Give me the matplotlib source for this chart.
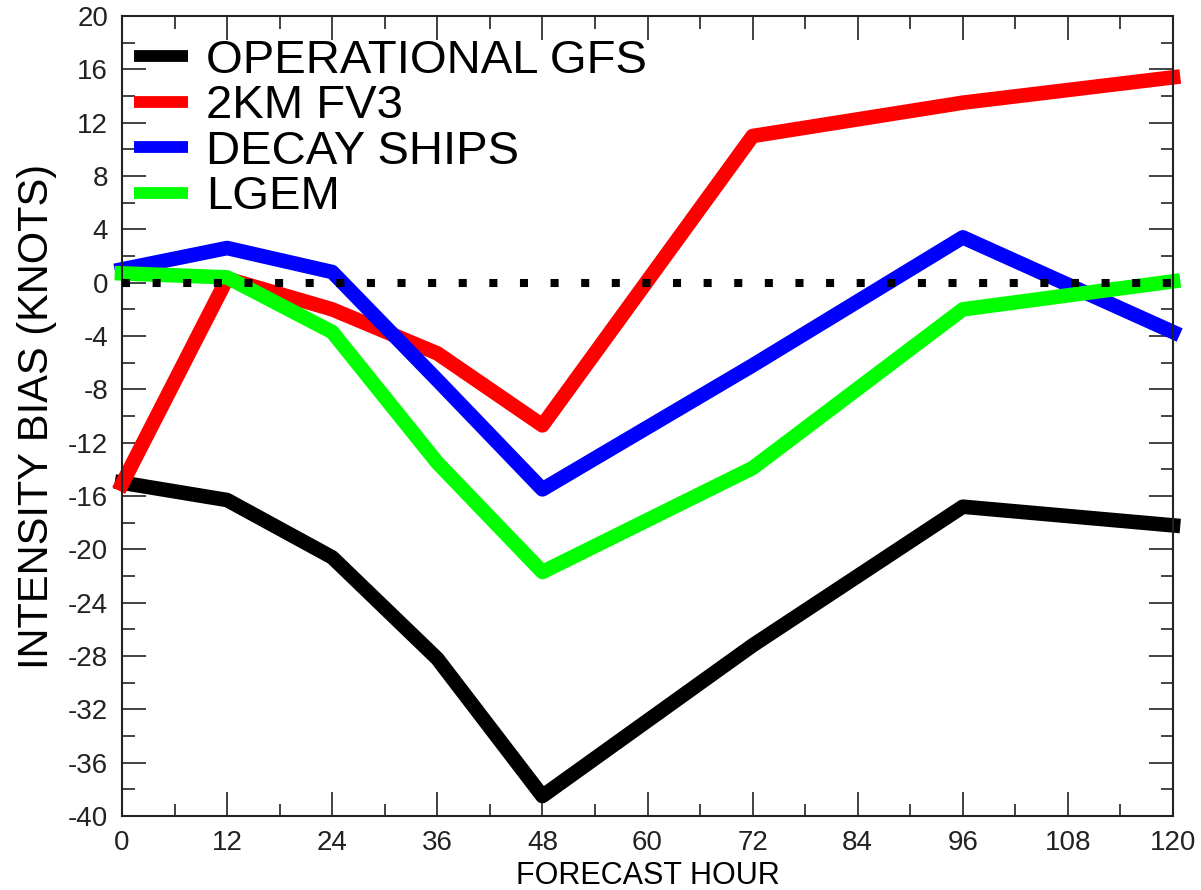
import numpy as np
import matplotlib.pyplot as plt
from matplotlib.ticker import MultipleLocator

# Datos: sesgo de intensidad por hora de pronostico
horas = np.array([0, 12, 24, 36, 48, 72, 96, 120])
gfs = np.array([-15.0, -16.3, -20.6, -28.2, -38.5, -27.2, -16.8, -18.2])
fv3 = np.array([-15.1, 0.3, -2.0, -5.3, -10.7, 11.0, 13.5, 15.4])
ships = np.array([1.0, 2.6, 0.8, -7.3, -15.5, -6.2, 3.4, -3.7])
lgem = np.array([0.7, 0.4, -3.7, -13.5, -21.7, -13.9, -2.0, 0.1])

series = [gfs, fv3, ships, lgem]
nombres = ["OPERATIONAL GFS", "2KM FV3", "DECAY SHIPS", "LGEM"]
colores = ["black", "#ff0000", "#0000ff", "#00ff00"]

plt.rcParams['font.family'] = ['Liberation Sans', 'DejaVu Sans']
plt.rcParams['axes.unicode_minus'] = False

fig = plt.figure(figsize=(12.01, 8.90), dpi=100)
ax = fig.add_axes([0.1016, 0.0831, 0.8751, 0.8989])

for y, nom, col in zip(series, nombres, colores):
    ax.plot(horas, y, color=col, lw=10.5, label=nom, clip_on=False,
            solid_joinstyle="round", solid_capstyle="projecting")

# Linea de referencia en cero (punteada, encima de las curvas)
ax.plot([0, 120], [0, 0], color="black", lw=5.8, linestyle=(0, (1, 2.8)),
        dash_capstyle="butt", zorder=5, clip_on=False)

ax.set_xlim(0, 120)
ax.set_ylim(-40, 20)
ax.xaxis.set_major_locator(MultipleLocator(12))
ax.xaxis.set_minor_locator(MultipleLocator(6))
ax.yaxis.set_major_locator(MultipleLocator(4))
ax.yaxis.set_minor_locator(MultipleLocator(2))
ax.tick_params(which="both", direction="in", top=True, right=True, width=1.2,
               labelsize=20, colors="#222222")
ax.tick_params(which="major", length=17, pad=10)
ax.tick_params(which="minor", length=9)
for s in ax.spines.values():
    s.set_linewidth(1.5)
    s.set_color("#222222")

ax.set_xlabel("FORECAST HOUR", fontsize=22, labelpad=4)
ax.set_ylabel("INTENSITY BIAS (KNOTS)", fontsize=30, labelpad=8)

leg = ax.legend(loc="upper left", bbox_to_anchor=(0.0, 0.986), frameon=False,
                fontsize=34, handlelength=1.15, handletextpad=0.38,
                labelspacing=0.03, borderaxespad=0.0, borderpad=0.25)
for h in leg.get_lines():
    h.set_linewidth(8.5)
    h.set_solid_capstyle("butt")

plt.savefig("out.png", dpi=100)
